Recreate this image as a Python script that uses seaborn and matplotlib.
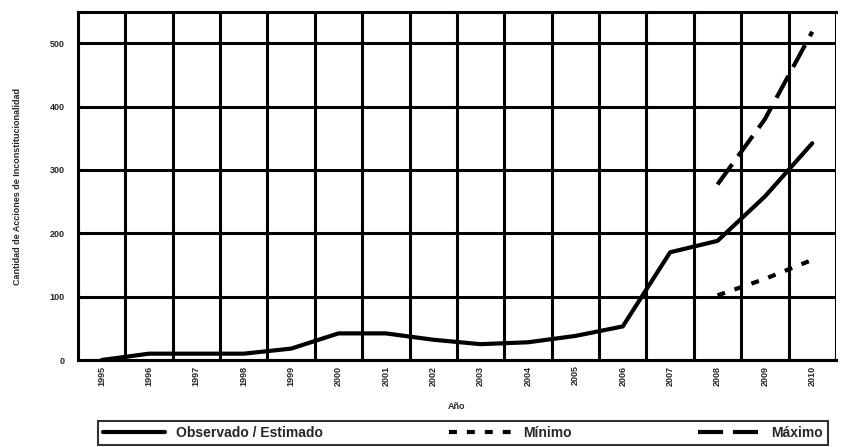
import numpy as np
import pandas as pd
import matplotlib
matplotlib.use("Agg")
import matplotlib.pyplot as plt
import seaborn as sns
from matplotlib.ticker import MultipleLocator

years = list(range(1995, 2011))
observado = [0, 10, 10, 10, 18, 42, 42, 32, 25, 28, 38, 53, 170, 188, 258, 342]
proy_years = [2008, 2009, 2010]
minimo = [102, 128, 158]
maximo = [277, 380, 518]

sns.set_style("white")
plt.rcParams['font.family'] = ['Liberation Sans', 'DejaVu Sans']

fig = plt.figure(figsize=(8.41, 4.47), dpi=100)
ax = fig.add_axes([0.0927, 0.1946, 0.9013, 0.7784])

obs_df = pd.DataFrame({"anio": years, "valor": observado})
min_df = pd.DataFrame({"anio": proy_years, "valor": minimo})
max_df = pd.DataFrame({"anio": proy_years, "valor": maximo})

sns.lineplot(data=obs_df, x="anio", y="valor", ax=ax, color="black", lw=3,
             label="Observado / Estimado")
sns.lineplot(data=min_df, x="anio", y="valor", ax=ax, color="black", lw=3,
             linestyle=(0, (1.9, 2.4)), label="Mínimo")
sns.lineplot(data=max_df, x="anio", y="valor", ax=ax, color="black", lw=3,
             linestyle=(0, (6, 2.4)), label="Máximo")

ax.set_xlim(1994.5, 2010.5)
ax.set_ylim(0, 549)

# gridlines: horizontal every 100, vertical between categories
ax.yaxis.set_major_locator(MultipleLocator(100))
ax.set_xticks(years)
ax.set_xticks(np.arange(1994.5, 2011, 1), minor=True)
ax.grid(True, which="major", axis="y", color="black", lw=2.2)
ax.grid(True, which="minor", axis="x", color="black", lw=2.2)
ax.set_axisbelow(True)

ax.set_xticklabels([str(y) for y in years], rotation=90, fontsize=6.5, fontweight="bold")
ax.tick_params(axis="x", which="major", length=0, pad=4)
ax.tick_params(axis="x", which="minor", length=5, width=2.2, color="black", direction="out")
ax.tick_params(axis="y", which="major", length=6, width=2.2, color="black",
               direction="out", labelsize=6.5)
for lab in ax.get_yticklabels():
    lab.set_fontweight("bold")

for side in ["left", "bottom", "top"]:
    ax.spines[side].set_visible(True)
    ax.spines[side].set_color("black")
    ax.spines[side].set_linewidth(2.2)
ax.spines["right"].set_visible(False)

ax.set_xlabel("Año", fontsize=6.5, fontweight="bold", labelpad=12)
ax.set_ylabel("Cantidad de Acciones de Inconstitucionalidad", fontsize=6.5,
              fontweight="bold", labelpad=20)

leg = ax.legend(loc="lower left", bbox_to_anchor=(0.026, -0.244, 0.963, 0.078),
                mode="expand", ncol=3, frameon=True, fancybox=False,
                handlelength=4.5, borderaxespad=0, borderpad=0.35,
                prop={"weight": "bold", "size": 10})
leg.get_frame().set_edgecolor("black")
leg.get_frame().set_linewidth(1.5)

fig.savefig("out.png", dpi=100)
